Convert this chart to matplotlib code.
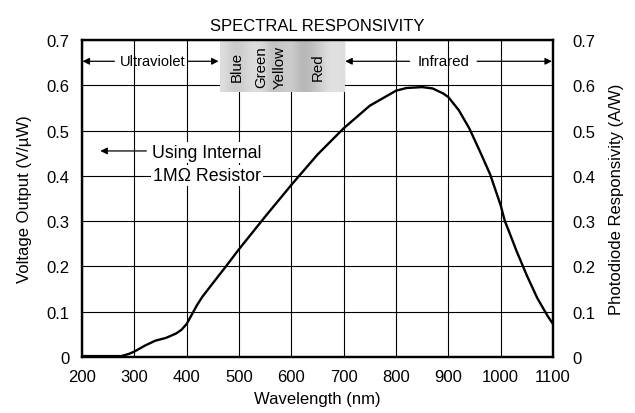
import matplotlib
matplotlib.use("Agg")
import matplotlib.pyplot as plt
import numpy as np

plt.rcParams['font.family'] = ['Liberation Sans', 'DejaVu Sans']

# Data
wavelength = [200, 250, 275, 290, 300, 320, 340, 360, 380, 390, 400, 410, 420, 430, 450,
              475, 500, 550, 600, 650, 700, 750, 800, 820, 850, 870, 890, 900, 920, 940,
              960, 980, 1000, 1008, 1015, 1030, 1050, 1070, 1090, 1100]
responsivity = [0.002, 0.002, 0.002, 0.007, 0.012, 0.025, 0.036, 0.042, 0.052, 0.060,
                0.073, 0.094, 0.115, 0.133, 0.163, 0.200, 0.238, 0.310, 0.380, 0.447,
                0.505, 0.555, 0.588, 0.594, 0.596, 0.593, 0.582, 0.574, 0.545, 0.505,
                0.455, 0.403, 0.335, 0.300, 0.280, 0.235, 0.180, 0.130, 0.090, 0.073]
xticks = [200, 300, 400, 500, 600, 700, 800, 900, 1000, 1100]
yticks = [0, 0.1, 0.2, 0.3, 0.4, 0.5, 0.6, 0.7]
ytick_labels = ["0", "0.1", "0.2", "0.3", "0.4", "0.5", "0.6", "0.7"]
color_names = ["Blue", "Green", "Yellow", "Red"]
color_pos = [496, 543, 578, 650]

fig = plt.figure(figsize=(6.35, 4.14), dpi=100)
ax = fig.add_axes([82/635, 1-358/414, (553-82)/635, (358-41)/414])
ax.set_xlim(200, 1100)
ax.set_ylim(0, 0.7)
ax.set_xticks(xticks)
ax.set_yticks(yticks)
ax.set_yticklabels(ytick_labels)
ax.tick_params(length=0, labelsize=12, pad=9)
ax.tick_params(axis='x', pad=9)
ax.grid(True, color='black', linewidth=0.8)
ax.set_axisbelow(True)
for s in ax.spines.values():
    s.set_linewidth(1.6)

# gradient box for visible region
grad = np.array([0.87, 0.78, 0.82, 0.87, 0.85, 0.74, 0.79, 0.81, 0.70, 0.74, 0.81, 0.89, 0.87])
img = np.tile(grad, (2, 1))
ax.imshow(img, cmap='gray', vmin=0, vmax=1, aspect='auto',
          extent=[463, 701, 0.585, 0.7], interpolation='bicubic', zorder=2)
ax.set_xlim(200, 1100)
ax.set_ylim(0, 0.7)
for name, p in zip(color_names, color_pos):
    ax.text(p, 0.642, name, rotation=90, ha='center', va='center', fontsize=10.8, zorder=3)

ax.plot(wavelength, responsivity, color='black', linewidth=1.7, zorder=4)

arrow = dict(arrowstyle='-|>', color='black', lw=0.9, mutation_scale=10, shrinkA=0, shrinkB=0)
# Ultraviolet
ax.text(335, 0.653, "Ultraviolet", ha='center', va='center', fontsize=10.5, zorder=3)
ax.annotate('', xy=(201, 0.653), xytext=(262, 0.653), arrowprops=arrow, zorder=3)
ax.annotate('', xy=(461, 0.653), xytext=(403, 0.653), arrowprops=arrow, zorder=3)
# Infrared
ax.text(890, 0.653, "Infrared", ha='center', va='center', fontsize=10.9, zorder=3)
ax.annotate('', xy=(703, 0.653), xytext=(826, 0.653), arrowprops=arrow, zorder=3)
ax.annotate('', xy=(1098, 0.653), xytext=(955, 0.653), arrowprops=arrow, zorder=3)
# internal resistor
ax.text(439, 0.452, "Using Internal", ha='center', va='center', fontsize=12.8, zorder=3,
        bbox=dict(facecolor='white', edgecolor='none', pad=1.5))
ax.text(439, 0.400, "1M\u03a9 Resistor", ha='center', va='center', fontsize=12.8, zorder=3,
        bbox=dict(facecolor='white', edgecolor='none', pad=1.5))
ax.annotate('', xy=(235, 0.455), xytext=(323, 0.455), arrowprops=arrow, zorder=3)

ax.set_xlabel("Wavelength (nm)", fontsize=12, labelpad=5)
ax.set_ylabel("Voltage Output (V/\u00b5W)", fontsize=12, labelpad=10)
ax.set_title("SPECTRAL RESPONSIVITY", fontsize=12, pad=7)

ax2 = ax.twinx()
ax2.set_ylim(0, 0.7)
ax2.set_yticks(yticks)
ax2.set_yticklabels(ytick_labels)
ax2.tick_params(length=0, labelsize=12, pad=14)
ax2.set_ylabel("Photodiode Responsivity (A/W)", fontsize=12, labelpad=10)
for s in ax2.spines.values():
    s.set_linewidth(1.6)

fig.savefig("out.png", dpi=100)
